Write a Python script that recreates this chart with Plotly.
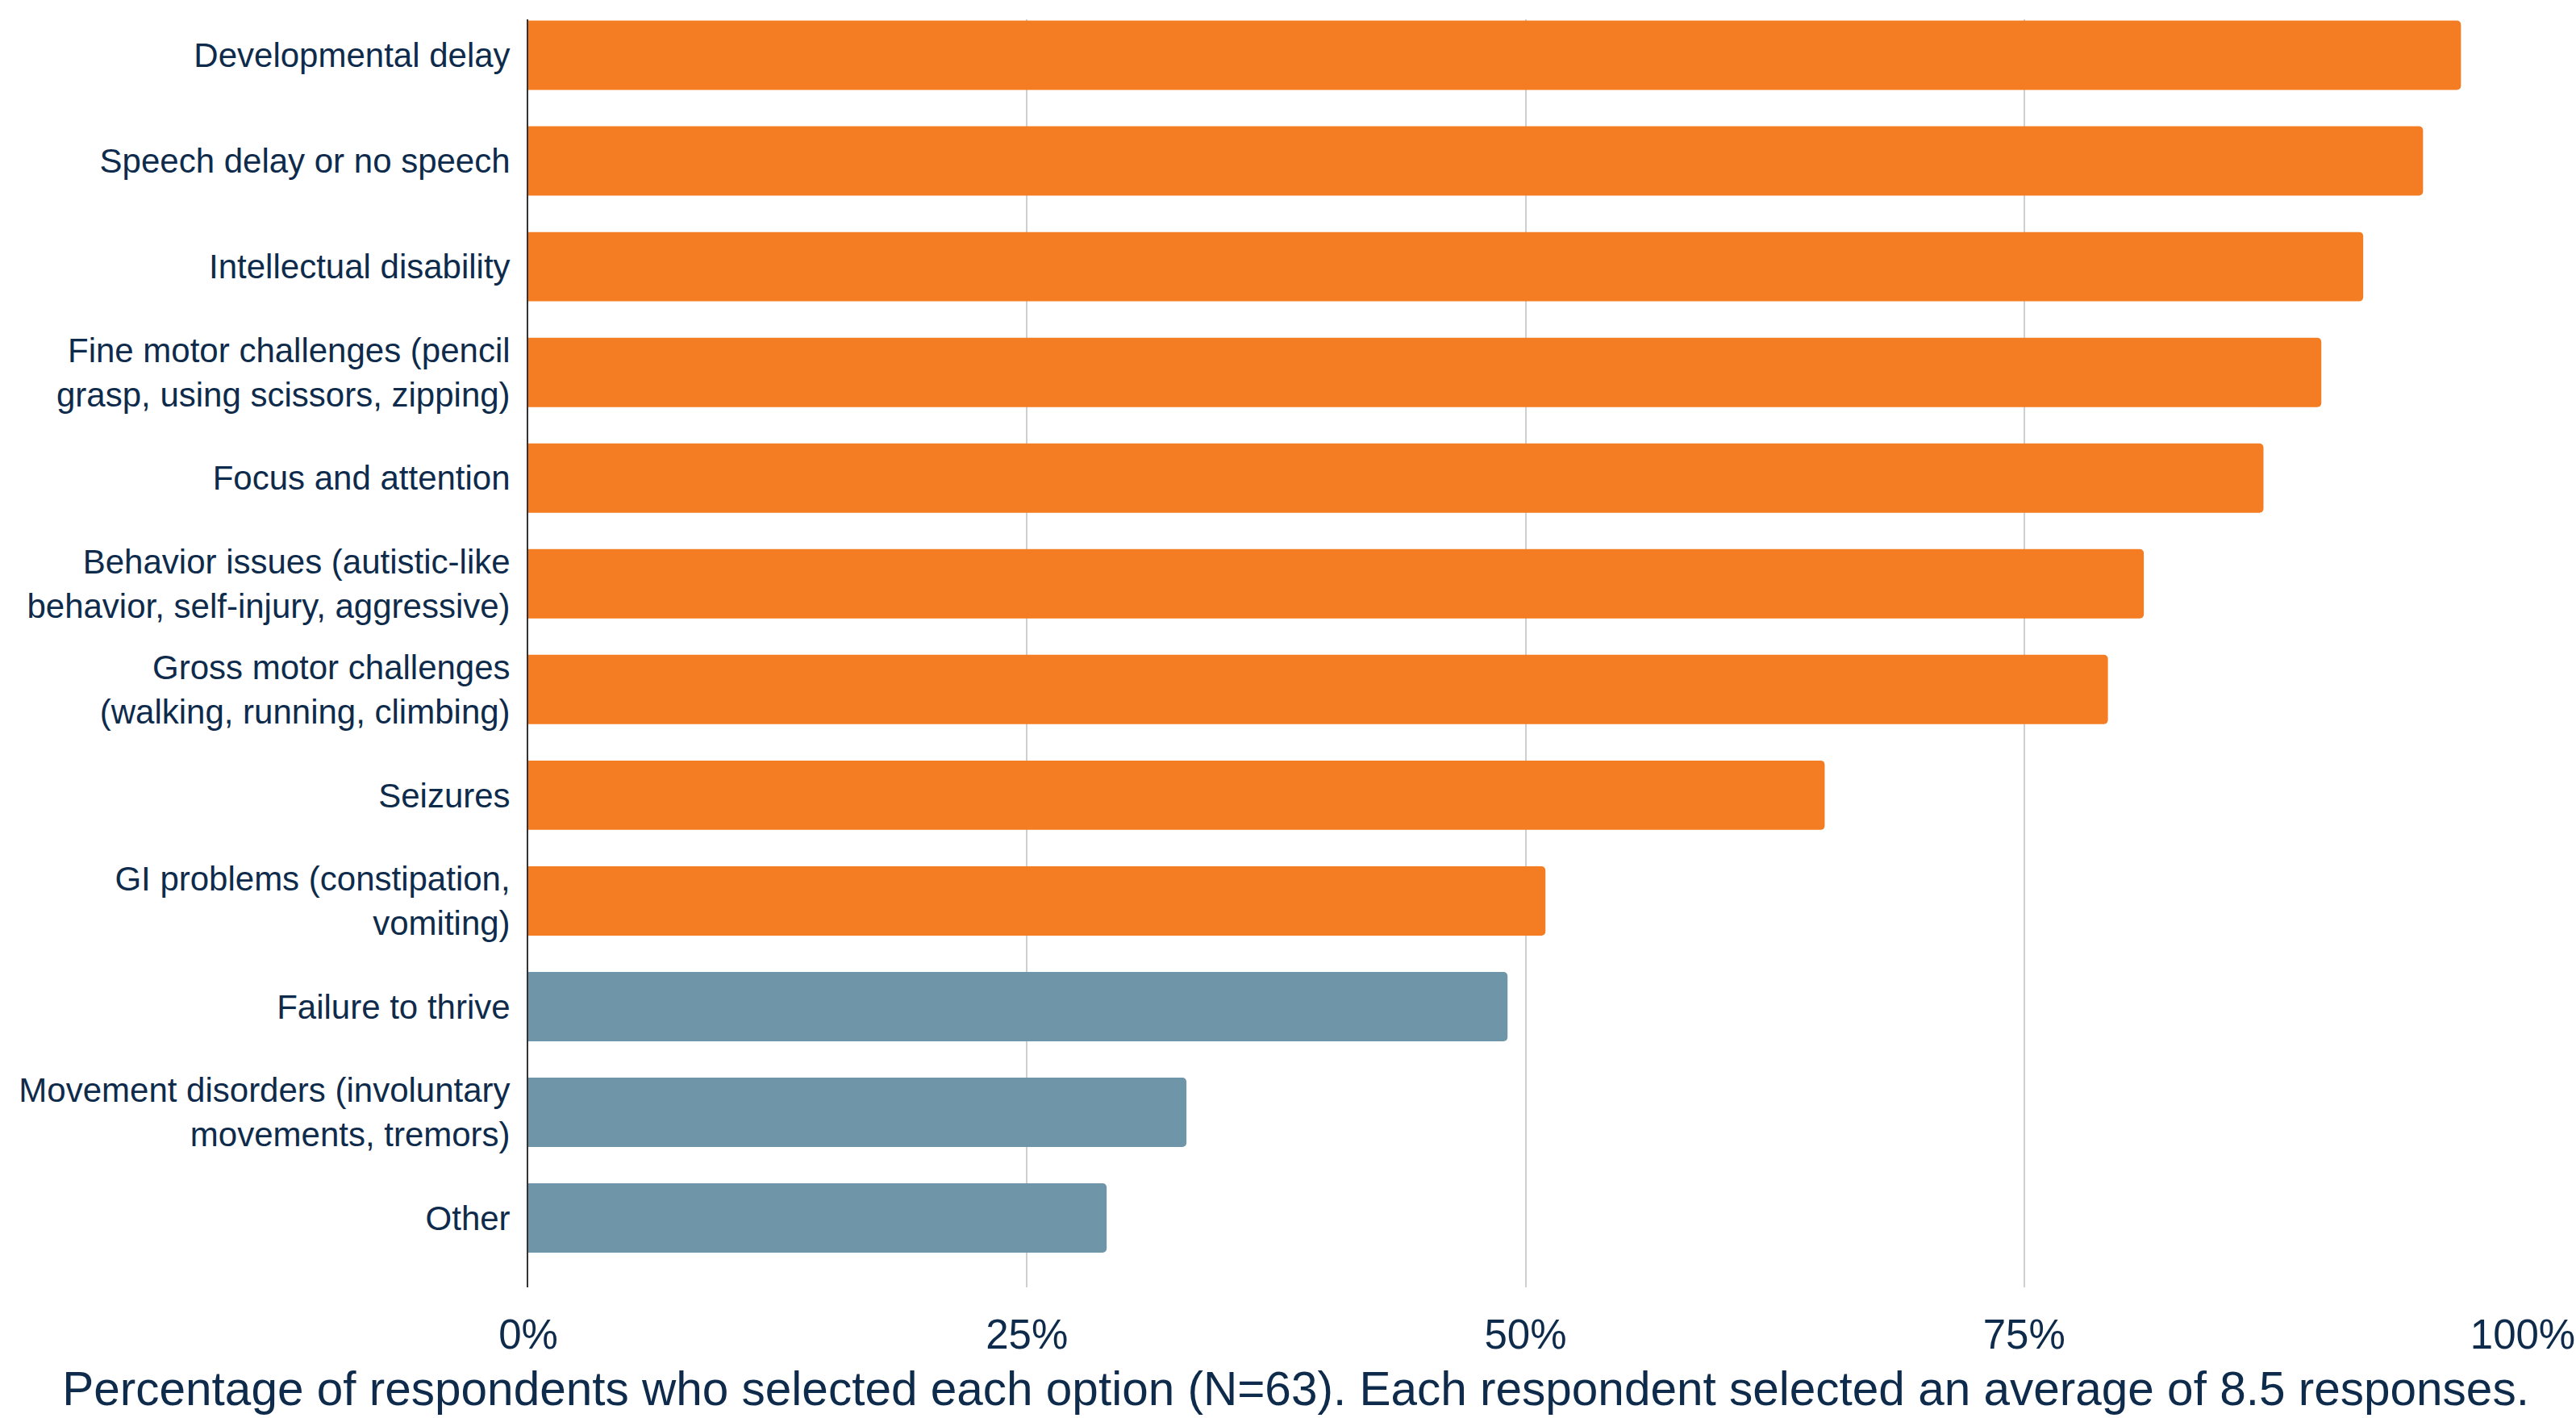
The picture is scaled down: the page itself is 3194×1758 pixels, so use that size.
import plotly.graph_objects as go

categories = [
    "Developmental delay",
    "Speech delay or no speech",
    "Intellectual disability",
    "Fine motor challenges (pencil<br>grasp, using scissors, zipping)",
    "Focus and attention",
    "Behavior issues (autistic-like<br>behavior, self-injury, aggressive)",
    "Gross motor challenges<br>(walking, running, climbing)",
    "Seizures",
    "GI problems (constipation,<br>vomiting)",
    "Failure to thrive",
    "Movement disorders (involuntary<br>movements, tremors)",
    "Other",
]
values = [96.9, 95.0, 92.0, 89.9, 87.0, 81.0, 79.2, 65.0, 51.0, 49.1, 33.0, 29.0]
highlighted = [True] * 9 + [False] * 3
tick_vals = [0, 25, 50, 75, 100]
tick_text = ["0%", "25%", "50%", "75%", "100%"]
title_text = ("Percentage of respondents who selected each option (N=63). "
              "Each respondent selected an average of 8.5 responses.")

ORANGE = "#F47C22"
SLATE = "#6F95A8"
NAVY = "#0E2B4C"

colors = [ORANGE if h else SLATE for h in highlighted]

fig = go.Figure(
    go.Bar(
        x=values,
        y=categories,
        orientation="h",
        marker=dict(color=colors, line=dict(width=0), cornerradius=5),
        width=0.656,
        hoverinfo="x+y",
    )
)

fig.update_layout(
    width=3194,
    height=1758,
    paper_bgcolor="white",
    plot_bgcolor="white",
    margin=dict(l=655, r=66, t=24, b=162, autoexpand=False),
    font=dict(family="Liberation Sans, Arial, sans-serif", color=NAVY),
    showlegend=False,
    title=dict(
        text=title_text,
        font=dict(size=58.5, color=NAVY, family="Liberation Sans, Arial, sans-serif"),
        xref="container", yref="container",
        x=0.503, xanchor="center",
        y=1 - 1722 / 1758, yanchor="middle",
    ),
)

fig.update_xaxes(
    range=[0, 100],
    tickvals=tick_vals,
    ticktext=tick_text,
    tickfont=dict(size=51, color=NAVY),
    showgrid=True,
    gridcolor="#CFCFCF",
    gridwidth=2,
    zeroline=False,
    showline=False,
    ticks="",
    ticklabelstandoff=24,
    automargin=False,
    fixedrange=True,
)

fig.update_yaxes(
    categoryorder="array",
    categoryarray=categories,
    range=[11.656, -0.34],
    tickfont=dict(size=42, color=NAVY),
    showgrid=False,
    zeroline=False,
    showline=True,
    linecolor="#333333",
    linewidth=2,
    ticks="",
    ticklabelstandoff=12,
    automargin=False,
    fixedrange=True,
)

fig.write_html("out.html")
